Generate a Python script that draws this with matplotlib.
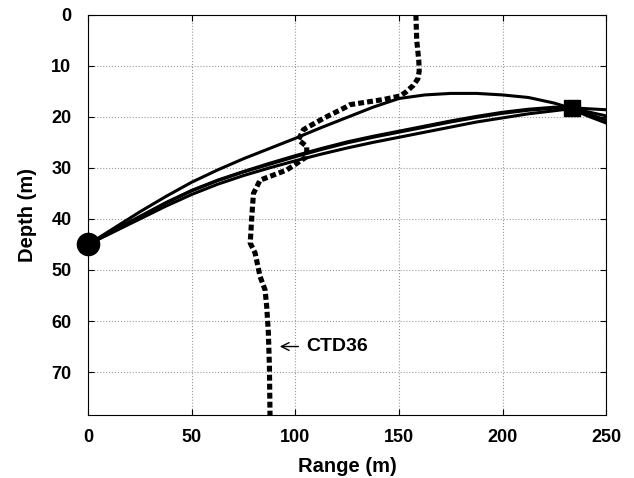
import numpy as np
import matplotlib
matplotlib.use("Agg")
import matplotlib.pyplot as plt

plt.rcParams["font.family"] = ["Liberation Sans", "DejaVu Sans"]
plt.rcParams["font.weight"] = "bold"

# ray paths (range m, depth m)
RAY_RANGE = [0, 12.5, 25, 37.5, 50, 62.5, 75, 87.5, 100, 112.5, 125, 137.5,
             150, 162.5, 175, 187.5, 200, 212.5, 225, 233, 241, 250]
RAY_A = [45, 41.8, 38.6, 35.6, 32.8, 30.4, 28.2, 26.2, 24.2, 22.1, 20.1, 18.1,
         16.4, 15.7, 15.4, 15.4, 15.7, 16.2, 17.3, 18.3, 19.4, 20.6]
RAY_B = [45, 42.2, 39.5, 36.8, 34.4, 32.4, 30.7, 29.1, 27.6, 26.2, 24.9, 23.8,
         22.8, 21.8, 20.8, 19.9, 19.1, 18.5, 18.1, 18.2, 18.4, 18.6]
RAY_C = [45, 42.5, 40.0, 37.5, 35.2, 33.2, 31.5, 30.0, 28.6, 27.3, 26.1, 25.0,
         24.0, 23.0, 22.0, 21.0, 20.2, 19.4, 18.8, 18.4, 19.8, 21.2]
RAY_D = [45, 42.3, 39.6, 36.9, 34.5, 32.5, 30.8, 29.3, 27.8, 26.4, 25.1, 24.0,
         23.0, 22.0, 21.0, 20.1, 19.3, 18.7, 18.3, 18.3, 19.0, 19.8]

# CTD36 profile drawn on range axis
CTD_X = [158.2, 158.6, 159.6, 159.8, 159.2, 157.0, 153.5, 150.6, 142.5, 126.5,
         124.8, 113.5, 103.9, 101.5, 105.5, 105.5, 95.9, 83.0, 79.8, 79.0,
         78.5, 78.2, 80.6, 83.0, 85.4, 86.2, 87.0, 87.5, 87.8]
CTD_Z = [0.0, 5.0, 9.0, 11.0, 12.5, 13.8, 15.1, 15.9, 16.6, 17.6,
         18.0, 20.3, 22.5, 24.5, 25.8, 27.8, 30.4, 32.4, 35.0, 39.5,
         43.0, 44.7, 46.7, 51.3, 53.9, 57.2, 62.4, 69.0, 79.0]

SRC = (0, 45)
RCV = (233.5, 18.3)

fig = plt.figure(figsize=(6.34, 4.78), dpi=100)
ax = fig.add_axes([0.139, 0.132, 0.817, 0.837])

for ray in [RAY_A, RAY_B, RAY_C, RAY_D]:
    ax.plot(RAY_RANGE, ray, color="black", lw=2.2, solid_joinstyle="round")

ax.plot(CTD_X, CTD_Z, color="black", lw=3.7, linestyle=(0, (1.15, 0.6)))

ax.plot(*SRC, marker="o", color="black", markersize=16, clip_on=False, zorder=5)
ax.plot(*RCV, marker="s", color="black", markersize=12, zorder=5)

ax.annotate("CTD36", xy=(92.5, 65), xytext=(105.5, 65), fontsize=14,
            fontweight="bold", va="center",
            arrowprops=dict(arrowstyle="->", lw=1.0, color="black",
                            shrinkA=4, shrinkB=0))

ax.set_xlim(0, 250)
ax.set_ylim(78.4, 0)
ax.set_xticks([0, 50, 100, 150, 200, 250])
ax.set_yticks([0, 10, 20, 30, 40, 50, 60, 70])
ax.grid(True, linestyle=":", color="#999999", lw=0.8)
ax.tick_params(direction="in", top=True, right=True, labelsize=13, length=4)
ax.tick_params(axis="x", pad=10)
ax.tick_params(axis="y", pad=12)
for lab in ax.get_xticklabels() + ax.get_yticklabels():
    lab.set_fontweight("bold")
ax.set_xlabel("Range (m)", fontsize=14.5, fontweight="bold", labelpad=8)
ax.set_ylabel("Depth (m)", fontsize=14.5, fontweight="bold", labelpad=10)

fig.savefig("out.png", dpi=100)
